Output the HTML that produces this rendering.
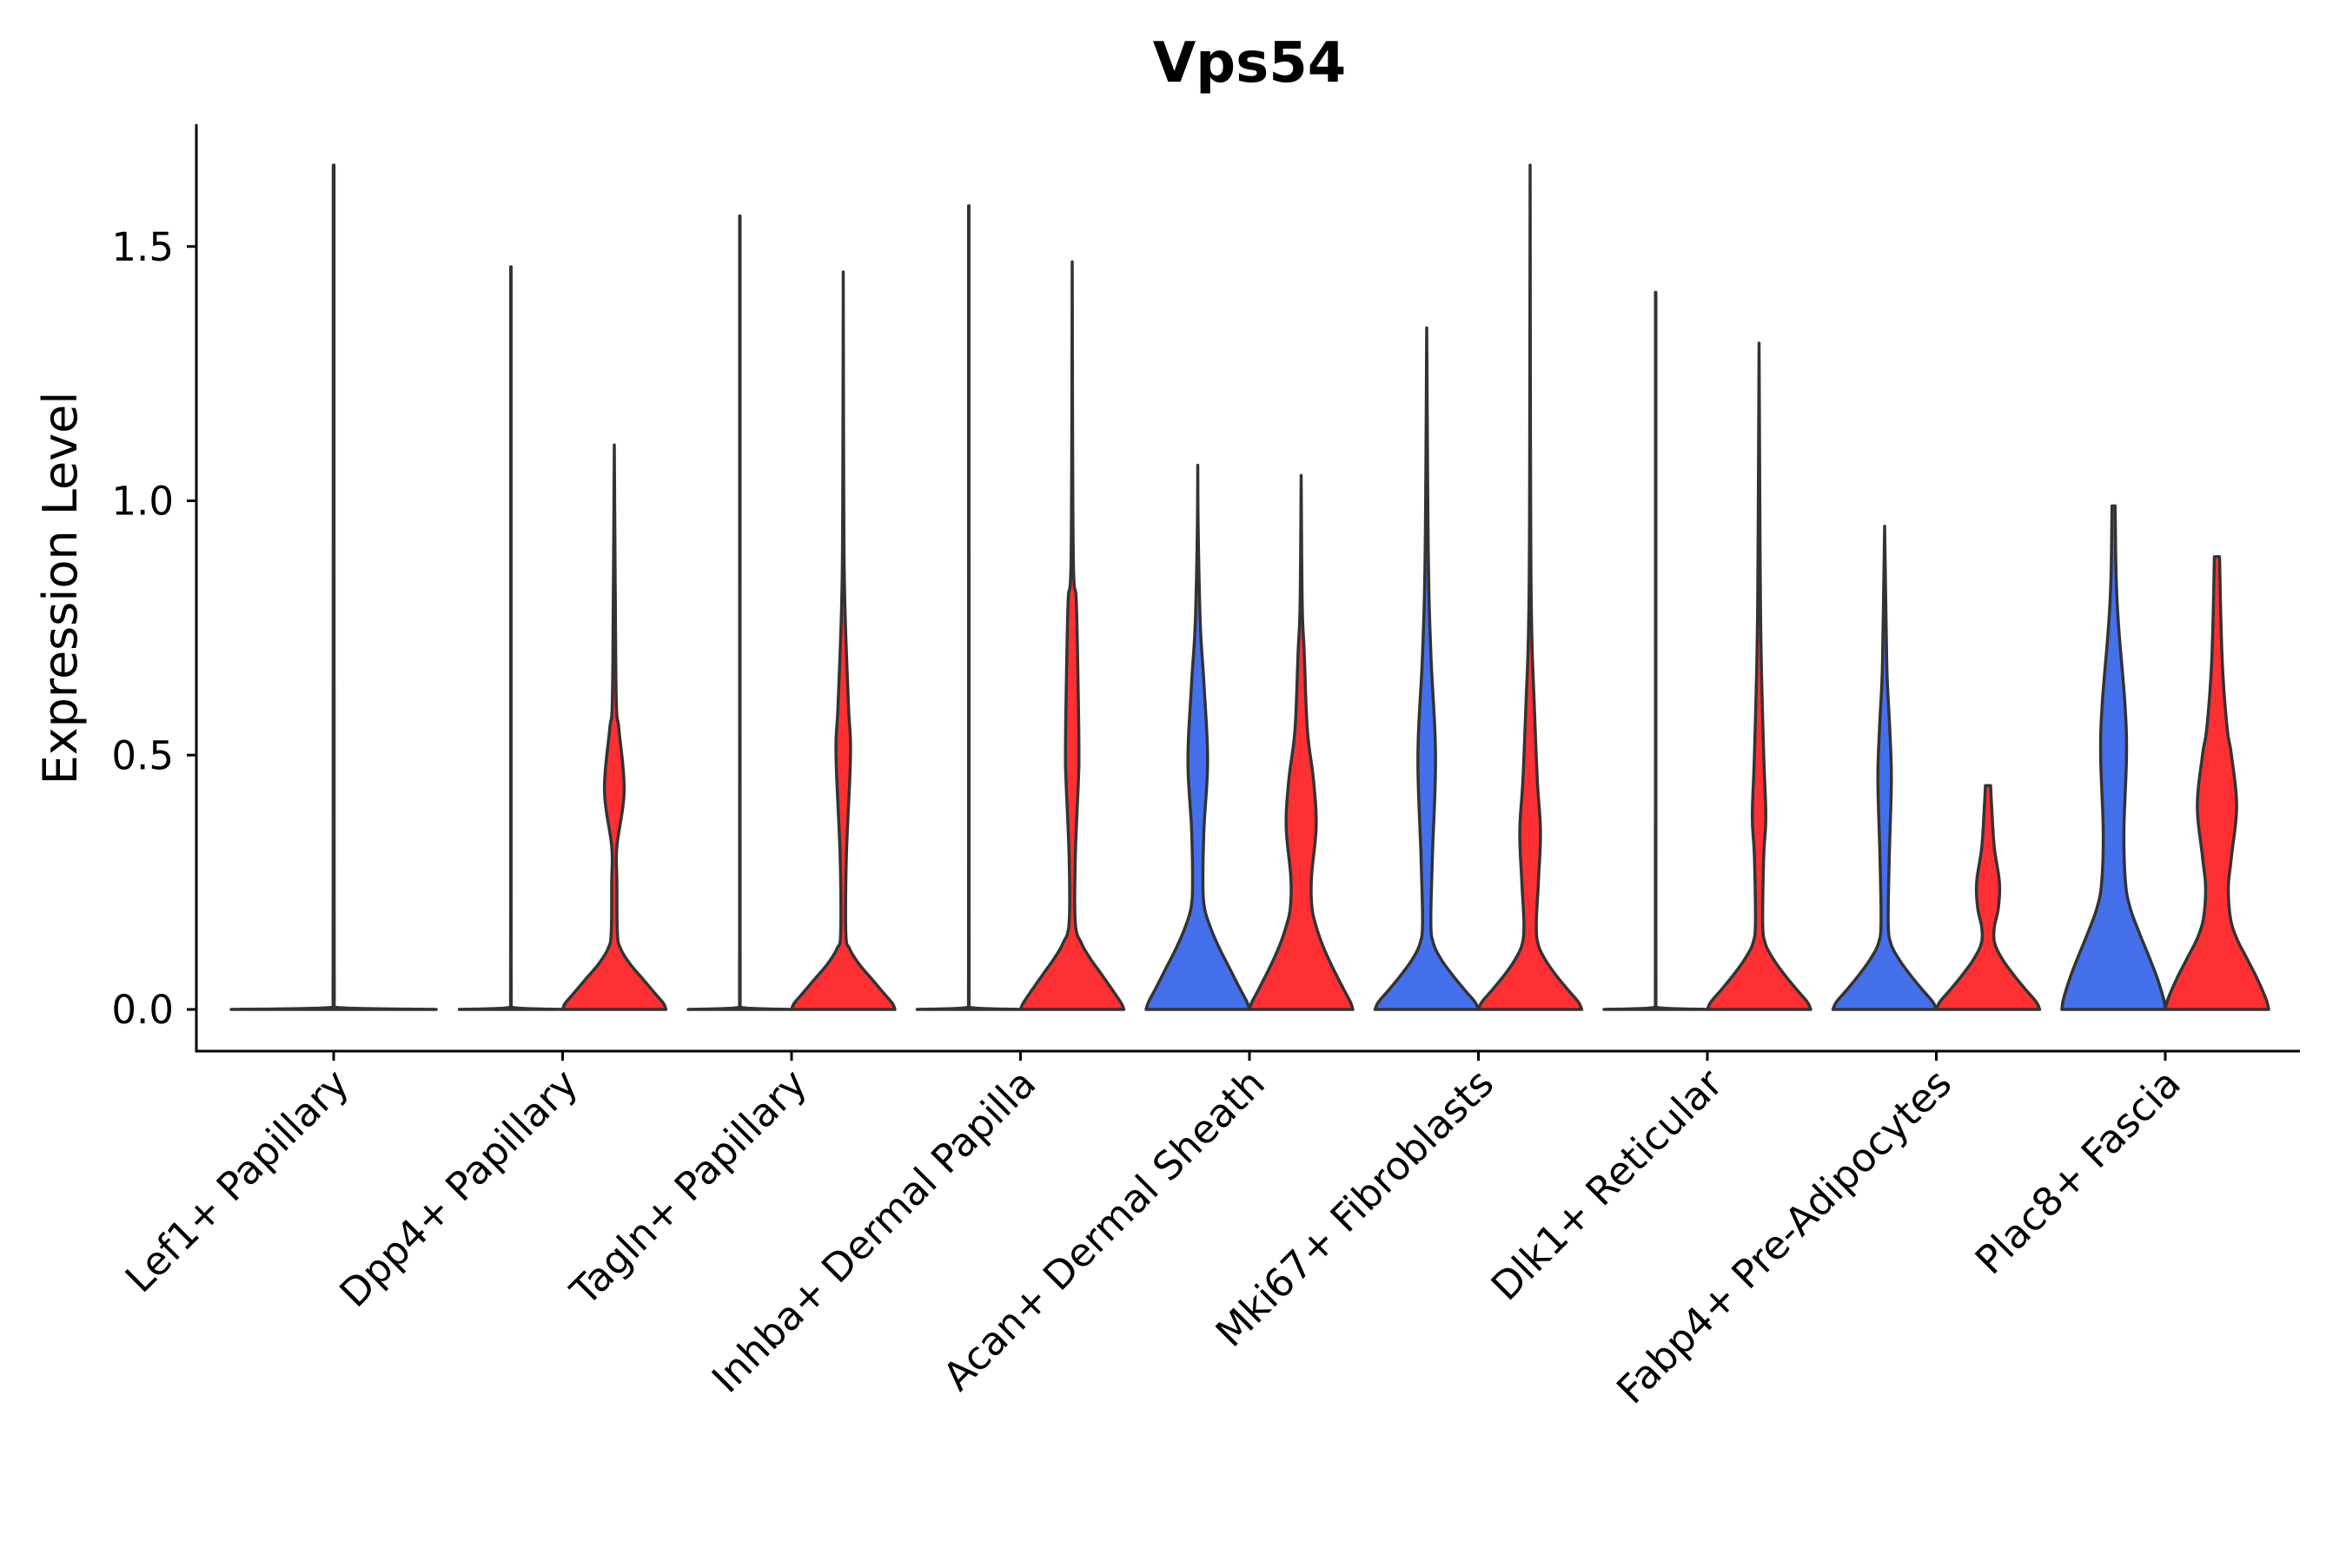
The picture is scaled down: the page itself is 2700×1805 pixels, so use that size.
<!DOCTYPE html>
<html><head><meta charset="utf-8"><style>
body{margin:0;background:#fff}
svg text{font-family:"DejaVu Sans","Liberation Sans",sans-serif;fill:#000}
</style></head><body>
<svg id="chart" width="2700" height="1800" viewBox="0 0 2700 1800">
<text x="1438" y="94" text-anchor="middle" font-size="64" font-weight="bold">Vps54</text>
<text transform="translate(88,677) rotate(-90)" text-anchor="middle" font-size="54">Expression Level</text>
<g id="plot"></g>
</svg>
<script>
const categories = ["Lef1+ Papillary","Dpp4+ Papillary","Tagln+ Papillary","Inhba+ Dermal Papilla","Acan+ Dermal Sheath","Mki67+ Fibroblasts","Dlk1+ Reticular","Fabp4+ Pre-Adipocytes","Plac8+ Fascia"];
const yTicks = [0,0.5,1.0,1.5];
const yTickLabels = ["0.0","0.5","1.0","1.5"];
// violin profiles: [expression value, relative half-width]
const blueProfiles = [
 null,
 [[0,1],[0.004,0.02],[0.02,0.006],[1.46,0.004]],
 [[0,1],[0.004,0.02],[0.02,0.006],[1.56,0.004]],
 [[0,1],[0.004,0.02],[0.02,0.006],[1.58,0.004]],
 [[0,1],[0.015,0.95],[0.04,0.82],[0.08,0.62],[0.12,0.42],[0.16,0.25],[0.2,0.13],[0.25,0.1],[0.355,0.12],[0.49,0.19],[0.64,0.12],[0.756,0.05],[0.93,0.01],[1.07,0]],
 [[0,1],[0.015,0.93],[0.04,0.72],[0.07,0.48],[0.1,0.27],[0.13,0.13],[0.17,0.08],[0.3,0.11],[0.5,0.17],[0.7,0.08],[0.9,0.03],[1.34,0]],
 [[0,1],[0.004,0.02],[0.02,0.006],[1.41,0.004]],
 [[0,1],[0.015,0.93],[0.04,0.72],[0.07,0.48],[0.1,0.27],[0.13,0.12],[0.17,0.07],[0.3,0.09],[0.45,0.13],[0.55,0.1],[0.65,0.05],[0.75,0.03],[0.95,0]],
 [[0,1],[0.02,0.97],[0.06,0.85],[0.1,0.7],[0.15,0.5],[0.2,0.32],[0.25,0.23],[0.35,0.2],[0.5,0.25],[0.6,0.22],[0.75,0.1],[0.85,0.05],[0.99,0.03]]
];
const redProfiles = [
 null,
 [[0,1],[0.012,0.95],[0.03,0.8],[0.06,0.55],[0.09,0.3],[0.12,0.12],[0.15,0.06],[0.25,0.05],[0.32,0.05],[0.43,0.19],[0.55,0.09],[0.6,0.04],[0.8,0.02],[1.11,0]],
 [[0,1],[0.012,0.95],[0.03,0.8],[0.06,0.55],[0.09,0.3],[0.12,0.12],[0.15,0.05],[0.3,0.06],[0.5,0.14],[0.6,0.1],[0.8,0.03],[1.0,0.01],[1.45,0]],
 [[0,1],[0.012,0.95],[0.035,0.8],[0.07,0.56],[0.1,0.35],[0.13,0.18],[0.17,0.06],[0.3,0.06],[0.45,0.12],[0.5,0.13],[0.6,0.12],[0.8,0.08],[0.9,0.02],[1.47,0]],
 [[0,1],[0.015,0.95],[0.04,0.82],[0.08,0.62],[0.12,0.44],[0.16,0.3],[0.2,0.21],[0.26,0.2],[0.36,0.29],[0.45,0.24],[0.55,0.12],[0.7,0.06],[0.8,0.02],[1.05,0]],
 [[0,1],[0.015,0.93],[0.04,0.72],[0.07,0.48],[0.1,0.28],[0.13,0.15],[0.17,0.12],[0.25,0.16],[0.35,0.2],[0.45,0.14],[0.6,0.08],[0.75,0.03],[1.0,0.01],[1.66,0]],
 [[0,1],[0.015,0.93],[0.04,0.72],[0.07,0.48],[0.1,0.27],[0.13,0.12],[0.17,0.07],[0.3,0.09],[0.38,0.13],[0.5,0.09],[0.7,0.04],[0.9,0.02],[1.31,0]],
 [[0,1],[0.015,0.93],[0.04,0.72],[0.07,0.48],[0.1,0.27],[0.13,0.13],[0.16,0.12],[0.2,0.2],[0.25,0.22],[0.32,0.12],[0.4,0.07],[0.44,0.05]],
 [[0,1],[0.02,0.95],[0.06,0.78],[0.1,0.58],[0.14,0.38],[0.18,0.26],[0.24,0.22],[0.3,0.28],[0.4,0.38],[0.5,0.28],[0.55,0.2],[0.65,0.12],[0.75,0.08],[0.89,0.05]]
];
const singleProfiles = [
 [[0,1],[0.004,0.02],[0.02,0.006],[1.66,0.004]],
 null,null,null,null,null,null,null,null
];
const NS="http://www.w3.org/2000/svg";
const plot=document.getElementById('plot');
const X0=384, STEP=263.5, Y0=1162, YU=585.5;
const xScale=i=>X0+i*STEP;
const yScale=v=>Y0-v*YU;
function mk(tag,attrs){const e=document.createElementNS(NS,tag);for(const k in attrs)e.setAttribute(k,attrs[k]);plot.appendChild(e);return e;}
function violinPath(cx,hw,prof){
  const pts=[];
  const n=prof.length;
  for(let k=0;k<n-1;k++){
    const p0=prof[Math.max(0,k-1)],p1=prof[k],p2=prof[k+1],p3=prof[Math.min(n-1,k+2)];
    for(let s=0;s<16;s++){
      const t=s/16,t2=t*t,t3=t2*t;
      const f=(a,b,c,d)=>0.5*((2*b)+(-a+c)*t+(2*a-5*b+4*c-d)*t2+(-a+3*b-3*c+d)*t3);
      let v=f(p0[0],p1[0],p2[0],p3[0]);
      let w=Math.max(0,f(p0[1],p1[1],p2[1],p3[1]));
      v=Math.min(Math.max(v,p1[0]),p2[0]);
      pts.push([v,Math.min(w,1)]);
    }
  }
  pts.push(prof[n-1]);
  let d='M'+(cx+hw*pts[0][1])+','+yScale(pts[0][0]);
  pts.forEach(p=>{d+=' L'+(cx+hw*p[1]).toFixed(2)+','+yScale(p[0]).toFixed(2);});
  for(let k=pts.length-1;k>=0;k--){const p=pts[k];d+=' L'+(cx-hw*p[1]).toFixed(2)+','+yScale(p[0]).toFixed(2);}
  return d+' Z';
}
categories.forEach((c,i)=>{
  const cx=xScale(i);
  if(singleProfiles[i]){
    const el=mk('path',{d:violinPath(cx,118,singleProfiles[i]),fill:'#4470EC',stroke:'#333','stroke-width':3.5,'stroke-linejoin':'round'});
    
    
  } else {
    const b=mk('path',{d:violinPath(cx-59.5,59.5,blueProfiles[i]),fill:'#4470EC',stroke:'#333','stroke-width':3.5,'stroke-linejoin':'round'});
    
    
    const r=mk('path',{d:violinPath(cx+59.5,59.5,redProfiles[i]),fill:'#FF3033',stroke:'#333','stroke-width':3.5,'stroke-linejoin':'round'});
    
    
  }
  const t=mk('line',{x1:cx,x2:cx,y1:1210,y2:1221,stroke:'#000','stroke-width':3});
  
  
  const lab=mk('text',{transform:`translate(${cx+20},1250) rotate(-45)`,'text-anchor':'end','font-size':45});
  lab.textContent=c;
  
  
});
yTicks.forEach((v,i)=>{
  const y=yScale(v);
  const t=mk('line',{x1:215,x2:226,y1:y,y2:y,stroke:'#000','stroke-width':3});
  
  
  const l=mk('text',{x:200,y:y+16,'text-anchor':'end','font-size':45});
  l.textContent=yTickLabels[i];
  
  
});
const ya=mk('line',{x1:226,x2:226,y1:143,y2:1211.5,stroke:'#000','stroke-width':3});


const xa=mk('line',{x1:224.5,x2:2647,y1:1210,y2:1210,stroke:'#000','stroke-width':3});


</script>
</body></html>
